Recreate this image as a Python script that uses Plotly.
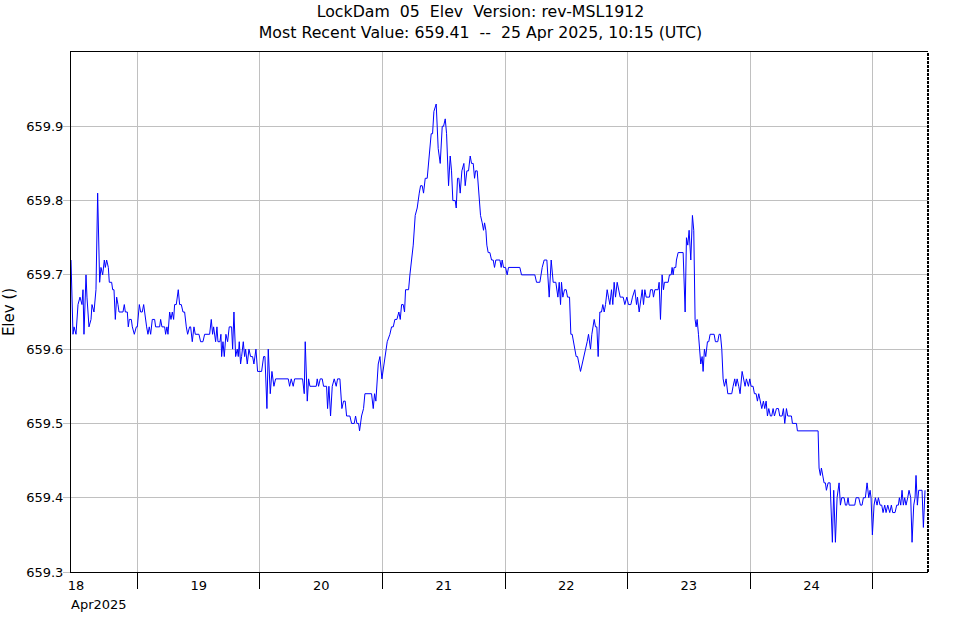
import pandas as pd
import plotly.graph_objects as go

start_time = "2025-04-18 11:00"
axis_end = "2025-04-25 10:50"

# hours since start_time
hours = [
    0.0, 0.39, 0.59, 0.98, 1.37, 1.76, 2.15, 2.35, 2.54, 2.94, 3.13, 3.52, 3.92, 4.11, 4.50, 4.89,
    5.22, 5.61, 5.87, 6.20, 6.53, 6.72, 6.98, 7.31, 7.50, 7.96, 8.16, 8.42, 8.68, 8.94, 9.20, 9.40,
    10.18, 10.44, 10.64, 11.03, 11.22, 11.42, 11.81, 12.01, 12.40, 12.79, 12.99, 13.38, 13.64, 13.96,
    14.23, 14.55, 14.81, 15.07, 15.33, 15.60, 15.92, 16.38, 16.57, 17.36, 17.55, 17.81, 18.34, 18.53,
    18.79, 18.99, 19.32, 19.58, 19.84, 20.10, 20.29, 20.62, 21.01, 21.27, 21.60, 21.93, 22.25, 22.58,
    22.84, 23.23, 23.43, 23.75, 24.08, 24.34, 24.54, 25.06, 25.38, 25.84, 26.17, 27.15, 27.47, 27.73,
    27.93, 28.32, 28.58, 28.78,
    29.17, 29.36, 29.50, 29.76, 30.02, 30.34, 30.67, 30.99, 31.45, 31.65, 31.91, 32.24, 32.56, 32.76,
    32.95, 33.21, 33.41, 33.74, 34.00, 34.19, 34.52, 34.85, 35.17, 35.56, 35.82, 36.22, 36.54, 37.33,
    37.72, 37.98, 38.37, 38.63, 39.02, 39.35, 39.74, 40.07, 42.55, 42.81, 43.13, 43.52, 43.79, 45.35,
    45.68, 45.87, 46.27, 46.53, 46.79, 48.03, 48.22, 48.48, 48.81, 49.20, 49.46, 50.05, 50.25, 50.51,
    50.83, 51.16, 51.55, 51.94, 52.20, 52.66, 53.05, 53.38, 53.70, 53.97, 54.62, 54.95, 55.47, 55.73,
    55.99, 56.32, 56.51, 56.90, 57.29, 57.56,
    58.86, 59.19, 59.45, 59.71, 60.17, 60.50, 60.89, 61.28, 61.60, 61.93, 62.45, 62.78, 63.11, 63.43,
    63.82, 64.21, 64.48, 64.74, 65.06, 65.32, 65.52, 66.11, 66.37, 66.70, 67.02, 67.41, 67.80, 68.20,
    68.46, 68.78, 69.04, 69.37, 69.76, 70.15, 70.54, 70.81, 71.07, 71.52, 71.91, 72.31, 72.70, 72.96,
    73.29, 73.55, 73.94, 74.26, 74.52, 74.78, 75.24, 75.44, 75.70, 75.96, 76.22, 76.55, 76.94, 77.20,
    77.53, 77.85, 78.18, 78.44, 78.77, 79.03, 79.22, 79.55, 79.88, 80.20, 80.53, 80.79, 80.99, 81.25,
    81.44, 81.70, 82.03, 82.36, 82.68, 82.94, 83.20, 83.99, 84.25, 84.44, 84.70,
    85.10, 85.42, 85.68, 87.90, 88.23, 90.84, 91.17, 91.82, 92.28, 92.67, 93.19, 93.65, 94.04, 94.43,
    94.95, 95.35, 95.61, 95.87, 96.06, 96.32, 96.65, 96.98, 97.24, 97.63, 97.89, 98.15, 98.41, 98.67,
    98.93, 99.20, 99.46, 99.78, 100.11, 100.37, 100.76, 101.09, 101.35, 101.74, 102.00, 102.46, 102.72,
    102.98, 103.24, 103.57, 103.89, 104.15, 104.42, 104.68, 105.00, 105.26, 105.53, 105.85, 106.11,
    106.37, 106.64, 106.96, 107.29, 107.55, 107.87, 108.14, 108.46, 108.85, 109.18, 109.64, 109.96,
    110.42, 110.75, 110.94, 111.27, 111.60, 111.86, 112.12, 112.38, 112.64, 113.29, 113.49, 113.88,
    114.07, 114.34,
    114.98, 115.18, 115.44, 115.76, 116.03, 116.22, 116.94, 117.20, 117.53, 117.72, 117.92, 118.11,
    118.44, 118.57, 118.90, 119.88, 120.27, 120.53, 120.79, 121.05, 121.38, 121.70, 121.96, 122.22,
    122.42, 122.62, 122.88, 123.14, 123.33, 123.60, 123.79, 124.05, 124.31, 124.64, 124.90, 125.16,
    125.95, 126.20, 126.66, 126.92, 127.18, 127.45, 127.71, 127.97, 128.29, 128.62, 129.40, 129.66,
    129.99, 130.19, 130.45, 130.77, 131.03, 131.43, 131.69, 132.01, 132.27, 132.67, 132.93, 133.19,
    133.58, 133.84, 134.17, 134.43, 134.69, 135.02, 135.28, 135.60, 135.86, 136.13, 136.39, 136.65,
    136.97, 137.23, 137.50, 137.76, 138.15, 138.54, 138.80, 139.26, 139.52, 139.78, 140.11, 140.37,
    141.09, 141.28, 142.07, 142.26,
    146.31, 146.50, 146.76, 146.96, 147.29, 147.48, 147.74, 147.94, 148.27, 148.66, 149.11, 149.37,
    149.70, 150.03, 150.42, 150.68, 150.94, 151.40, 151.66, 151.92, 152.18, 152.38, 153.49, 153.75,
    154.27, 154.60, 154.92, 155.18, 155.57, 155.90, 156.23, 156.49, 156.68, 156.94, 157.27, 157.53,
    157.86, 158.12, 158.44, 158.77, 159.03, 159.36, 159.62, 159.95, 160.34, 160.66, 160.92, 161.38,
    161.71, 162.03, 162.23, 162.49, 162.75, 163.01, 163.27, 163.53, 163.86, 164.12, 164.45, 164.71,
    165.04, 165.30, 165.49, 165.75, 166.01, 166.67, 166.93, 167.25,
]

elev = [
    659.72, 659.62, 659.63, 659.62, 659.66, 659.67, 659.66, 659.68, 659.62, 659.70, 659.67, 659.63, 659.64, 659.66, 659.65, 659.68,
    659.81, 659.69, 659.71, 659.70, 659.72, 659.71, 659.72, 659.71, 659.69, 659.69, 659.68, 659.68, 659.64, 659.67, 659.66, 659.65,
    659.65, 659.66, 659.65, 659.65, 659.63, 659.64, 659.64, 659.63, 659.62, 659.63, 659.63, 659.66, 659.65, 659.65,
    659.66, 659.64, 659.63, 659.62, 659.63, 659.62, 659.64, 659.64, 659.63, 659.63, 659.64, 659.63, 659.63, 659.62,
    659.63, 659.62, 659.65, 659.64, 659.65, 659.64, 659.66, 659.66, 659.68, 659.66, 659.66, 659.65, 659.65, 659.63,
    659.62, 659.63, 659.63, 659.61, 659.63, 659.62, 659.62, 659.62, 659.61, 659.61, 659.62, 659.62, 659.64, 659.62,
    659.63, 659.61, 659.63, 659.61,
    659.61, 659.62, 659.59, 659.61, 659.59, 659.62, 659.61, 659.63, 659.63, 659.60, 659.65, 659.59, 659.60, 659.59,
    659.61, 659.58, 659.59, 659.61, 659.59, 659.60, 659.58, 659.60, 659.59, 659.59, 659.58, 659.60, 659.57, 659.57,
    659.59, 659.59, 659.52, 659.60, 659.54, 659.57, 659.55, 659.56, 659.56, 659.55, 659.56, 659.55, 659.56, 659.56,
    659.54, 659.61, 659.53, 659.56, 659.55, 659.55, 659.56, 659.55, 659.56, 659.56, 659.55, 659.55, 659.52, 659.55,
    659.51, 659.55, 659.56, 659.55, 659.56, 659.56, 659.52, 659.53, 659.53, 659.51, 659.51, 659.50, 659.50, 659.51,
    659.50, 659.50, 659.49, 659.51, 659.52, 659.54,
    659.54, 659.52, 659.54, 659.53, 659.58, 659.59, 659.56, 659.58, 659.59, 659.61, 659.62, 659.63, 659.63, 659.64,
    659.64, 659.65, 659.64, 659.66, 659.66, 659.65, 659.68, 659.68, 659.70, 659.72, 659.74, 659.78, 659.79, 659.81,
    659.82, 659.82, 659.81, 659.83, 659.83, 659.86, 659.89, 659.89, 659.92, 659.93, 659.87, 659.85, 659.90, 659.90,
    659.91, 659.89, 659.82, 659.86, 659.84, 659.80, 659.80, 659.79, 659.83, 659.83, 659.81, 659.84, 659.85, 659.82,
    659.84, 659.84, 659.86, 659.85, 659.85, 659.83, 659.84, 659.84, 659.81, 659.78, 659.77, 659.76, 659.77, 659.76,
    659.74, 659.73, 659.73, 659.72, 659.72, 659.71, 659.72, 659.72, 659.71, 659.72, 659.71,
    659.71, 659.70, 659.71, 659.71, 659.70, 659.70, 659.69, 659.69, 659.71, 659.72, 659.72, 659.67, 659.72, 659.69,
    659.69, 659.67, 659.69, 659.66, 659.69, 659.67, 659.68, 659.68, 659.67, 659.67, 659.62, 659.62, 659.61, 659.60,
    659.59, 659.59, 659.58, 659.57, 659.58, 659.59, 659.60, 659.61, 659.62, 659.60, 659.62, 659.64, 659.63,
    659.63, 659.59, 659.65, 659.65, 659.66, 659.65, 659.66, 659.68, 659.67, 659.66, 659.68, 659.66,
    659.69, 659.67, 659.69, 659.68, 659.67, 659.67, 659.67, 659.66, 659.67, 659.66, 659.66, 659.67,
    659.68, 659.66, 659.67, 659.65, 659.67, 659.68, 659.66, 659.68, 659.67, 659.67, 659.68, 659.68,
    659.67, 659.68,
    659.68, 659.69, 659.64, 659.70, 659.68, 659.69, 659.69, 659.70, 659.70, 659.71, 659.70, 659.71,
    659.71, 659.72, 659.73, 659.73, 659.65, 659.75, 659.74, 659.76, 659.72, 659.78, 659.76, 659.64,
    659.63, 659.64, 659.62, 659.60, 659.58, 659.59, 659.57, 659.60, 659.59, 659.61, 659.61, 659.62,
    659.62, 659.61, 659.61, 659.62, 659.62, 659.60, 659.56, 659.55, 659.56, 659.54, 659.54, 659.55,
    659.56, 659.55, 659.56, 659.55, 659.54, 659.57, 659.56, 659.55, 659.56, 659.55, 659.56, 659.55,
    659.55, 659.54, 659.54, 659.53, 659.54, 659.53, 659.52, 659.53, 659.52, 659.53, 659.51, 659.52,
    659.51, 659.51, 659.52, 659.51, 659.52, 659.52, 659.51, 659.51, 659.52, 659.50, 659.52, 659.51,
    659.51, 659.50, 659.50, 659.49,
    659.49, 659.44, 659.43, 659.44, 659.43, 659.42, 659.42, 659.41, 659.42, 659.42, 659.34, 659.41,
    659.34, 659.40, 659.42, 659.39, 659.40, 659.40, 659.39, 659.39, 659.40, 659.39, 659.39, 659.40,
    659.40, 659.39, 659.39, 659.40, 659.40, 659.42, 659.40, 659.41, 659.40, 659.35, 659.39, 659.40,
    659.39, 659.40, 659.39, 659.39, 659.38, 659.39, 659.38, 659.39, 659.38, 659.39, 659.38, 659.38,
    659.39, 659.39, 659.40, 659.39, 659.41, 659.39, 659.40, 659.39, 659.40, 659.41, 659.40, 659.34,
    659.39, 659.40, 659.43, 659.39, 659.41, 659.41, 659.36, 659.41,
]

day_ticks = ["2025-04-19", "2025-04-20", "2025-04-21", "2025-04-22", "2025-04-23", "2025-04-24", "2025-04-25"]
label_days = ["2025-04-18 12:00", "2025-04-19 12:00", "2025-04-20 12:00", "2025-04-21 12:00",
              "2025-04-22 12:00", "2025-04-23 12:00", "2025-04-24 12:00"]
label_text = ["18", "19", "20", "21", "22", "23", "24"]
y_ticks = [659.3, 659.4, 659.5, 659.6, 659.7, 659.8, 659.9]

times = pd.to_datetime(start_time) + pd.to_timedelta(hours, unit="h")

FONT = "DejaVu Sans"
GRID = "#c0c0c0"

fig = go.Figure()
fig.add_trace(go.Scatter(x=times, y=elev, mode="lines",
                         line=dict(color="#0000ff", width=1), showlegend=False,
                         hoverinfo="x+y"))
# invisible trace to activate the label axis
fig.add_trace(go.Scatter(x=[times[0]], y=[elev[0]], xaxis="x2", mode="markers",
                         marker=dict(opacity=0), showlegend=False, hoverinfo="skip"))

fig.update_layout(
    width=961, height=620,
    margin=dict(l=71, r=33, t=52, b=48, autoexpand=False),
    paper_bgcolor="white", plot_bgcolor="white",
    font=dict(family=FONT, size=13, color="black"),
    title=dict(text="LockDam  05  Elev  Version: rev-MSL1912<br>Most Recent Value: 659.41  --  25 Apr 2025, 10:15 (UTC)",
               x=0.5, xref="container", xanchor="center",
               y=0.972, yref="container", yanchor="top",
               font=dict(family=FONT, size=15.75, color="black")),
    xaxis=dict(type="date", range=[start_time, axis_end],
               tickvals=day_ticks, showticklabels=False,
               ticks="outside", ticklen=16, tickcolor="black", tickwidth=1,
               showgrid=True, gridcolor=GRID, gridwidth=1,
               showline=True, linecolor="black", linewidth=1, mirror=True,
               zeroline=False, fixedrange=True, automargin=False),
    xaxis2=dict(type="date", overlaying="x", matches="x", side="bottom", anchor="y",
                tickvals=label_days, ticktext=label_text, ticks="",
                showgrid=False, showline=False, zeroline=False, automargin=False,
                ticklabelstandoff=4,
                tickfont=dict(family=FONT, size=13, color="black")),
    yaxis=dict(range=[659.3, 660.0], tickvals=y_ticks, tickformat=".1f",
               ticks="outside", ticklen=7, tickcolor=GRID,
               showgrid=True, gridcolor=GRID, gridwidth=1,
               showline=True, linecolor="black", linewidth=1,
               zeroline=False, automargin=False, ticklabelstandoff=-3,
               title=dict(text="Elev ()", font=dict(family=FONT, size=15, color="black"), standoff=8)),
    shapes=[dict(type="line", xref="paper", yref="paper", x0=1, x1=1, y0=0, y1=1,
                 line=dict(color="black", width=2, dash="3px,1px"))],
    annotations=[dict(text="Apr2025", xref="paper", yref="paper", x=0, y=0,
                      xanchor="left", yanchor="middle", yshift=-32, xshift=-2, showarrow=False,
                      font=dict(family=FONT, size=13, color="black"))],
)

fig.write_html("out.html")
